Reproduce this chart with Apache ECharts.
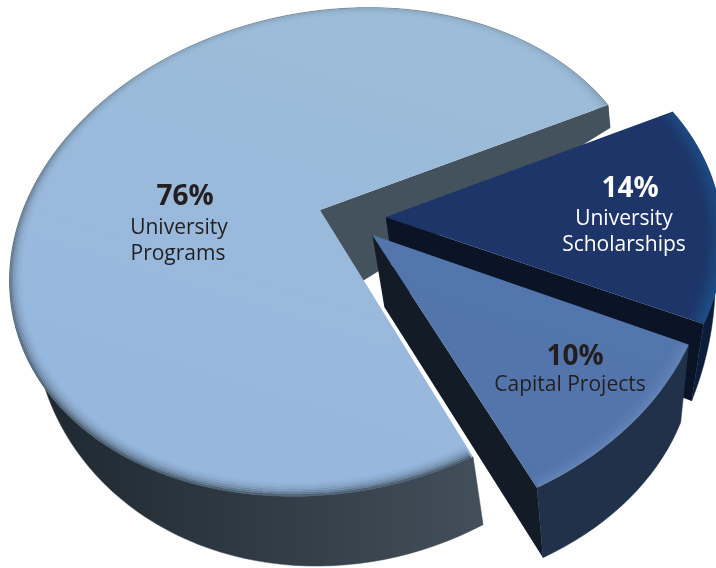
<!DOCTYPE html>
<html>
<head>
<meta charset="utf-8">
<style>html,body{margin:0;padding:0;background:#fff}#c{width:716px;height:568px}</style>
<script src="https://cdn.jsdelivr.net/npm/echarts@6/dist/echarts.min.js"></script>
</head>
<body>
<div id="c"></div>
<script>
// Data
const categories = [['University', 'Programs'], ['University', 'Scholarships'], ['Capital Projects']];
const shares = [76, 14, 10];

// Drawing styles and the tilted-disc projection
const startAngle = 43.2;
const origin = [320, 210];
const mat = { a: 290, c: -124.5, d: 65.4, b: 227.5, kx: -0.1, ky: -0.15 };
const looks = [
  { move: [0, 0], radius: 1, apexDrop: [20, 85], textColor: '#231f20',
    faceA: '#9cbcd8', faceB: '#97b8de', bevel: '60,76,90', bevelTop: .12,
    bevelAlpha: [.75, .5, .34, .24, .16, .1, .06, .03], bevelStep: .005,
    sideColor: '#44525e', wallA: '#1e2830', wallB: '#434f5a',
    label: [[185, 197], [179, 228], [178, 254]] },
  { move: [.21, -.03], radius: .985, rimDrop: [[0, 10], [-12, 77]], apexDrop: [10, 70], textColor: '#ffffff',
    faceA: '#1d3568', faceB: '#1d3568', bevel: '28,84,140', bevelTop: .5,
    bevelAlpha: [.9, .85, .7, .55, .4, .28, .18, .1], bevelStep: .006,
    sideColor: '#0a1426', wallA: '#0b1d3b', wallB: '#0b1d3b',
    label: [[630, 189], [624, 219], [624, 245]] },
  { move: [.197, .05], radius: .975, rimDrop: [[-8, 78], [6, 70]], apexDrop: [12, 72], textColor: '#231f20',
    faceA: '#5377ad', faceB: '#5274ab', bevel: '120,150,195', bevelTop: 1,
    bevelAlpha: [.4, .3, .22, .15, .1, .05], bevelStep: .006,
    sideColor: '#131c26', wallA: '#21314a', wallB: '#21314a',
    label: [[575, 357], [570, 385]] }
];

function project(x, y) {
  const w = 1 + mat.kx * x + mat.ky * y;
  return [origin[0] + (mat.a * x + mat.c * y) / w, origin[1] + (mat.d * x + mat.b * y) / w];
}
function rimPoint(look, deg, r) {
  const t = deg * Math.PI / 180;
  return project(look.move[0] + r * Math.cos(t), look.move[1] + r * Math.sin(t));
}
function arc(look, from, to, r) {
  const n = Math.max(12, Math.round((to - from) / 2));
  const pts = [];
  for (let i = 0; i <= n; i++) pts.push(rimPoint(look, from + (to - from) * i / n, r));
  return pts;
}
function dropAt(look, p, f) {
  if (look.rimDrop) {
    const [s, e] = look.rimDrop;
    return [s[0] + (e[0] - s[0]) * f, s[1] + (e[1] - s[1]) * f];
  }
  return [20.8 - .0326 * p[0] + .0102 * p[1], -3.3 + .0198 * p[0] + .1354 * p[1]];
}
function grad(x, y, x2, y2, c1, c2) {
  return new echarts.graphic.LinearGradient(x, y, x2, y2,
    [{ offset: 0, color: c1 }, { offset: 1, color: c2 }], true);
}

function renderItem(params, api) {
  const i = params.dataIndex;
  const look = looks[i];
  const value = api.value(0);
  const total = shares.reduce((s, v) => s + v, 0);
  const before = shares.slice(0, i).reduce((s, v) => s + v, 0);
  const from = startAngle + before / total * 360;
  const to = from + value / total * 360;
  const R = look.radius;
  const rim = arc(look, from, to, R);
  const lower = rim.map((p, k) => {
    const o = dropAt(look, p, k / (rim.length - 1));
    return [p[0] + o[0], p[1] + o[1]];
  });
  const apex = project(look.move[0], look.move[1]);
  const apexLow = [apex[0] + look.apexDrop[0], apex[1] + look.apexDrop[1]];
  const kids = [];
  const wallPts = rim.concat(lower.slice().reverse());
  const xs = wallPts.map(p => p[0]);
  kids.push({
    type: 'polygon', shape: { points: wallPts },
    style: { fill: grad(Math.min(...xs) + 30, 0, Math.max(...xs) - 120, 0, look.wallA, look.wallB),
      stroke: look.wallB, lineWidth: .5 }
  });
  kids.push({
    type: 'polygon',
    shape: { points: [apex, rim[rim.length - 1], lower[lower.length - 1], apexLow] },
    style: { fill: look.sideColor }
  });
  kids.push({
    type: 'polygon', shape: { points: [apex].concat(rim) },
    style: { fill: grad(420, 40, 300, 420, look.faceA, look.faceB) }
  });
  look.bevelAlpha.forEach((alpha, k) => {
    kids.push({
      type: 'polyline',
      shape: { points: arc(look, from + .3, to - .3, R * (0.998 - k * look.bevelStep)) },
      style: {
        stroke: grad(0, 60, 0, 440, 'rgba(' + look.bevel + ',' + alpha * look.bevelTop + ')', 'rgba(' + look.bevel + ',' + alpha + ')'),
        lineWidth: 2.4, fill: 'none'
      }
    });
  });
  const lines = [value + '%'].concat(categories[i]);
  lines.forEach((txt, k) => {
    kids.push({
      type: 'text', x: look.label[k][0], y: look.label[k][1],
      style: {
        text: txt, align: 'center', verticalAlign: 'middle',
        fill: look.textColor,
        font: (k === 0 ? 'bold 28px' : '21px') + ' "Open Sans", sans-serif'
      }
    });
  });
  return { type: 'group', children: kids };
}

const chart = echarts.init(document.getElementById('c'), null, { renderer: 'canvas', width: 716, height: 568 });
chart.setOption({
  animation: false,
  backgroundColor: '#ffffff',
  series: [{
    type: 'custom',
    coordinateSystem: 'none',
    renderItem: renderItem,
    silent: true,
    clip: false,
    data: shares.map(v => [v])
  }]
});
</script>
</body>
</html>
